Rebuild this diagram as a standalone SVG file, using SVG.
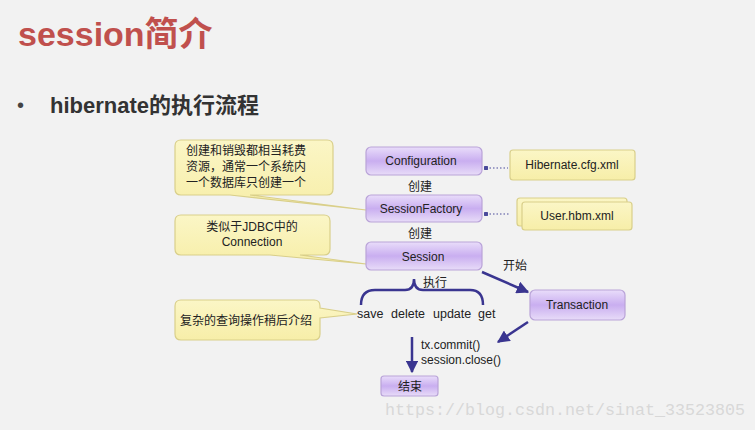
<svg xmlns="http://www.w3.org/2000/svg" width="755" height="430" viewBox="0 0 755 430">
<defs>
<linearGradient id="pg" x1="0" y1="0" x2="0" y2="1"><stop offset="0" stop-color="#e9ddfa"/><stop offset="0.5" stop-color="#c9aef0"/><stop offset="1" stop-color="#e8dcf8"/></linearGradient>
<linearGradient id="yg" x1="0" y1="0" x2="0" y2="1"><stop offset="0" stop-color="#fbf6c6"/><stop offset="1" stop-color="#f7eea8"/></linearGradient>
<marker id="ar" viewBox="0 0 10 10" refX="9" refY="5" markerWidth="5" markerHeight="5" orient="auto"><path d="M0,0 L10,5 L0,10 z" fill="#3a3590"/></marker>
<marker id="dot" viewBox="0 0 6 6" refX="3" refY="3" markerWidth="4" markerHeight="4"><circle cx="3" cy="3" r="3" fill="#4a4a9a"/></marker>
</defs>
<style>
.t{font-family:"Liberation Sans","Noto Sans CJK SC",sans-serif;fill:#222;font-size:12px}
.p{fill:url(#pg);stroke:#b9a3d8;stroke-width:1.2}
.y{fill:url(#yg);stroke:#d9cf8a;stroke-width:1.2}
.c{stroke:#3a3590;stroke-width:2.5;fill:none}
</style>
<rect width="755" height="430" fill="#f2f2f2"/>
<text x="18" y="46" style="font-family:'Liberation Sans','Noto Sans CJK SC',sans-serif;font-size:34px;font-weight:bold;fill:#c0504d">session简介</text>
<text x="17" y="112" style="font-family:'Liberation Sans',sans-serif;font-size:20px;fill:#444">•</text>
<text x="50" y="113" style="font-family:'Liberation Sans','Noto Sans CJK SC',sans-serif;font-size:22px;font-weight:bold;fill:#333">hibernate的执行流程</text>

<g id="callout1"><path class="y" d="M181,140 H327 Q333,140 333,146 V189 Q333,195 327,195 H250 L366,210 L230,195 H181 Q175,195 175,189 V146 Q175,140 181,140 Z"/>
<text class="t" x="186" y="155">创建和销毁都相当耗费</text><text class="t" x="186" y="171">资源，通常一个系统内</text><text class="t" x="186" y="187">一个数据库只创建一个</text></g>
<g id="callout2"><path class="y" d="M181,215 H324 Q330,215 330,221 V249 Q330,255 324,255 H300 L366,264 L270,255 H181 Q175,255 175,249 V221 Q175,215 181,215 Z"/>
<text class="t" x="252" y="231" text-anchor="middle">类似于JDBC中的</text><text class="t" x="252" y="246" text-anchor="middle">Connection</text></g>
<g id="callout3"><path class="y" d="M181,300 H314 Q320,300 320,306 V308 L357,314 L320,318 V334 Q320,340 314,340 H181 Q175,340 175,334 V306 Q175,300 181,300 Z"/>
<text class="t" x="180" y="325">复杂的查询操作稍后介绍</text></g>

<g id="configuration"><rect class="p" x="366" y="147" width="116" height="28" rx="5"/><text class="t" x="421" y="165" text-anchor="middle">Configuration</text></g>
<g id="cfg"><rect class="y" x="510" y="150" width="125" height="30" rx="3"/><text class="t" x="572" y="169" text-anchor="middle">Hibernate.cfg.xml</text></g>
<g id="sessionfactory"><rect class="p" x="366" y="195" width="116" height="27" rx="5"/><text class="t" x="421" y="213" text-anchor="middle">SessionFactory</text></g>
<g id="hbm"><rect class="y" x="517" y="198" width="110" height="28" rx="3"/><rect class="y" x="522" y="202" width="110" height="28" rx="3"/><text class="t" x="577" y="220" text-anchor="middle">User.hbm.xml</text></g>
<g id="session"><rect class="p" x="366" y="242" width="116" height="28" rx="5"/><text class="t" x="423" y="261" text-anchor="middle">Session</text></g>
<g id="transaction"><rect class="p" x="530" y="290" width="95" height="30" rx="5"/><text class="t" x="577" y="309" text-anchor="middle">Transaction</text></g>
<g id="end"><rect class="p" x="381" y="376" width="57" height="20" rx="3"/><text class="t" x="410" y="391" text-anchor="middle">结束</text></g>

<g id="connectors">
<path d="M486,168 H508" stroke="#4a4a9a" stroke-width="1.2" stroke-dasharray="1.5,2" marker-start="url(#dot)"/>
<path d="M486,214 H510" stroke="#4a4a9a" stroke-width="1.2" stroke-dasharray="1.5,2" marker-start="url(#dot)"/>
<path class="c" d="M482,272 L528,292" marker-end="url(#ar)"/>
<path class="c" d="M528,322 L498,342" marker-end="url(#ar)"/>
<path class="c" d="M412,337 V372" marker-end="url(#ar)"/>
<path class="c" d="M361,305 Q361,290 375,290 H405 Q414,290 414,279 Q414,290 423,290 H470 Q483,290 483,305"/>
</g>
<text class="t" x="408" y="191">创建</text>
<text class="t" x="408" y="238">创建</text>
<text class="t" x="503" y="270">开始</text>
<text class="t" x="423" y="287">执行</text>
<text class="t" x="357" y="318" style="font-size:12.5px">save</text>
<text class="t" x="391" y="318" style="font-size:12.5px">delete</text>
<text class="t" x="433" y="318" style="font-size:12.5px">update</text>
<text class="t" x="478" y="318" style="font-size:12.5px">get</text>
<text class="t" x="421" y="349">tx.commit()</text>
<text class="t" x="421" y="364">session.close()</text>
<text x="385" y="415" textLength="360" lengthAdjust="spacingAndGlyphs" style="font-family:'Liberation Mono',monospace;font-size:16px;fill:#d8d8d8">https://blog.csdn.net/sinat_33523805</text>
</svg>
